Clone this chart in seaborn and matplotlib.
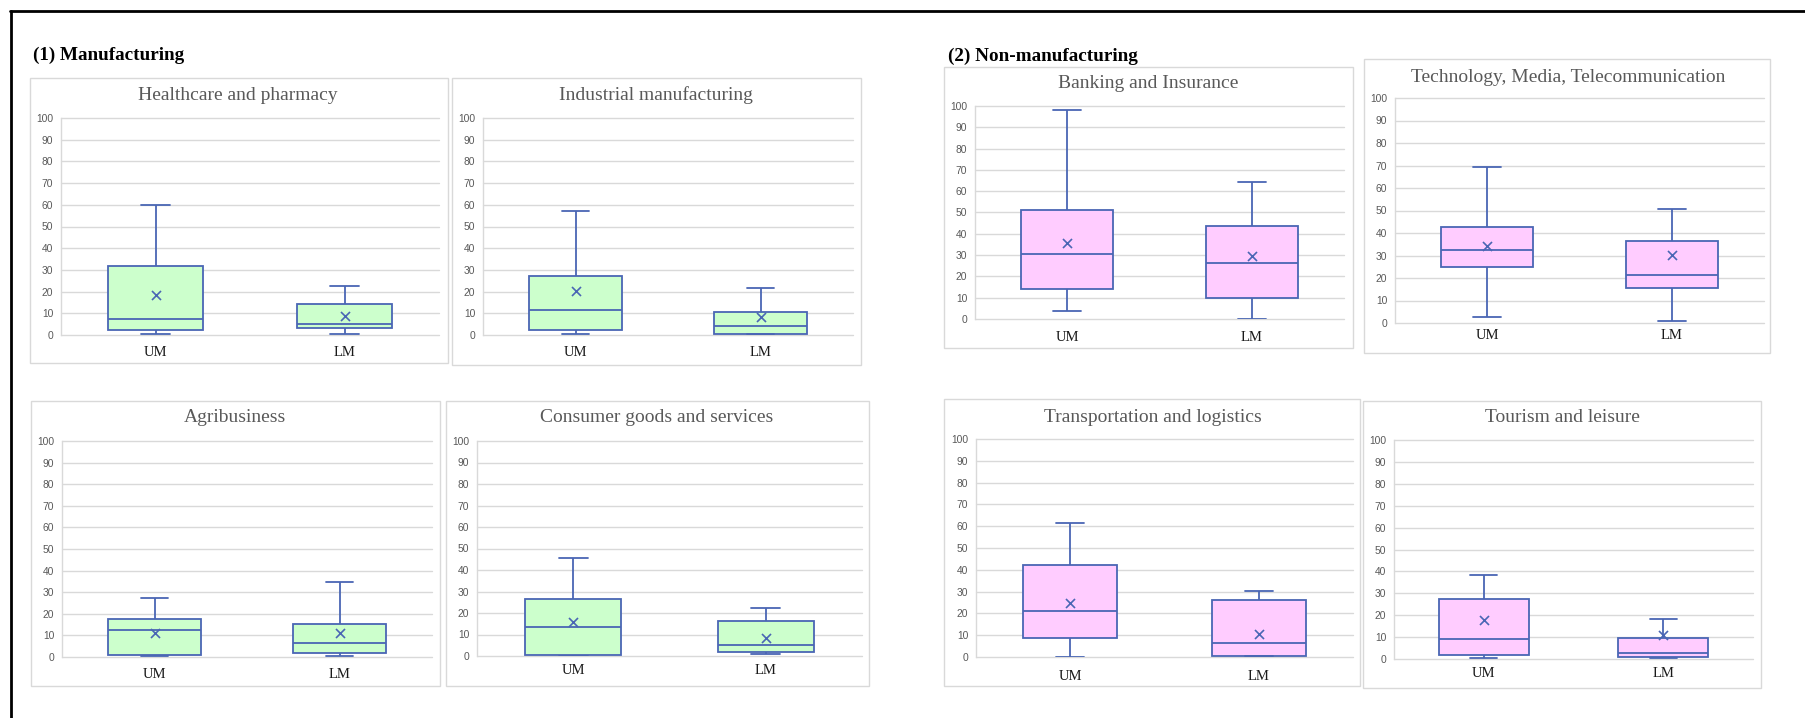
import matplotlib
matplotlib.use("Agg")
import matplotlib.pyplot as plt
from matplotlib.patches import Rectangle
from matplotlib.lines import Line2D
import pandas as pd
import seaborn as sns

# Sector panels (first four: manufacturing, last four: non-manufacturing)
titles = [
    "Healthcare and pharmacy", "Industrial manufacturing",
    "Banking and Insurance", "Technology, Media, Telecommunication",
    "Agribusiness", "Consumer goods and services",
    "Transportation and logistics", "Tourism and leisure",
]
groups = ["UM", "LM"]

# Box summaries per panel: whisker low, Q1, median, Q3, whisker high, mean
um_low = [0.6, 0.3, 3.6, 2.8, 0.3, 0.2, 0.2, 0.3]
um_q1 = [2.1, 2.1, 14.1, 24.9, 1.1, 0.5, 8.9, 1.8]
um_median = [7.5, 11.3, 30.3, 32.3, 12.5, 13.3, 20.9, 9.1]
um_q3 = [32.0, 27.1, 51.4, 42.7, 17.4, 26.3, 42.1, 27.4]
um_high = [60.0, 57.1, 98.1, 69.5, 27.2, 45.7, 61.4, 38.4]
um_mean = [18.5, 20.2, 35.5, 34.1, 11.2, 15.6, 24.6, 17.6]

lm_low = [0.6, 0.3, 0.2, 0.9, 0.3, 0.9, 0.3, 0.3]
lm_q1 = [3.1, 0.6, 10.0, 15.6, 1.7, 1.9, 0.6, 1.1]
lm_median = [4.9, 4.1, 26.3, 21.2, 6.3, 5.0, 6.3, 2.7]
lm_q3 = [14.2, 10.7, 43.6, 36.6, 15.2, 16.4, 26.0, 9.6]
lm_high = [22.7, 21.7, 64.1, 50.7, 34.6, 22.3, 30.4, 18.2]
lm_mean = [8.7, 8.1, 29.8, 30.2, 11.2, 8.2, 10.4, 10.9]

section_titles = ["(1) Manufacturing", "(2) Non-manufacturing"]

W, H = 1805, 718
fig = plt.figure(figsize=(W / 100, H / 100), dpi=100)
sns.set_theme(style="whitegrid")
plt.rcParams["font.family"] = ["Liberation Serif", "DejaVu Serif"]
fig.set_facecolor("white")

GREEN = "#CCFFCC"
PINK = "#FFCCFF"
EDGE = "#4A66B4"
GRID = "#D9D9D9"

# Layout in pixels: plot area (x0, x1, y_top, y_bottom), frame (fx0, fy0, fx1, fy1),
# title centre (tx, ty), x tick label pad (pt)
layout = [
    ((61, 439, 118, 335), (30, 78, 448, 363), (238, 95), 8),
    ((483, 853, 118, 335), (452, 78, 861, 365), (656, 95), 8),
    ((975, 1344, 106, 319), (944, 67, 1353, 348), (1148, 84), 9),
    ((1395, 1764, 98, 323), (1364, 59, 1770, 353), (1568, 77), 4),
    ((62, 432, 441, 657), (31, 401, 440, 686), (235, 418), 8),
    ((477, 862, 441, 656), (446, 401, 869, 686), (657, 418), 6),
    ((976, 1353, 439, 657), (944, 399, 1360, 686), (1153, 417), 9),
    ((1394, 1753, 440, 659), (1363, 401, 1761, 688), (1562, 418), 6),
]

for i, title in enumerate(titles):
    (x0, x1, yt, yb), (fx0, fy0, fx1, fy1), (tx, ty), xpad = layout[i]
    fill = GREEN if i in (0, 1, 4, 5) else PINK

    # panel frame
    fig.add_artist(Rectangle((fx0 / W, 1 - fy1 / H), (fx1 - fx0) / W, (fy1 - fy0) / H,
                             transform=fig.transFigure, fill=False,
                             edgecolor="#D9D9D9", linewidth=1.0, zorder=0))

    ax = fig.add_axes([x0 / W, 1 - yb / H, (x1 - x0) / W, (yb - yt) / H])
    ax.set_facecolor("none")

    rows = []
    for g, vals in zip(groups, [
        (um_low[i], um_q1[i], um_median[i], um_q3[i], um_high[i]),
        (lm_low[i], lm_q1[i], lm_median[i], lm_q3[i], lm_high[i]),
    ]):
        for v in vals:
            rows.append({"group": g, "value": v})
    df = pd.DataFrame(rows)
    means = pd.DataFrame({"group": groups, "mean": [um_mean[i], lm_mean[i]]})

    sns.boxplot(data=df, x="group", y="value", order=groups, ax=ax,
                color=fill, saturation=1, linecolor=EDGE, linewidth=1.3,
                width=0.5, whis=(0, 100), fliersize=0, capwidths=0.15)
    sns.stripplot(data=means, x="group", y="mean", order=groups, ax=ax,
                  jitter=False, marker="x", size=6.5, color=EDGE,
                  linewidth=1.2, zorder=6)

    ax.set_xlim(-0.5, 1.5)
    ax.set_ylim(0, 100)
    ax.set_yticks(range(0, 101, 10))
    ax.set_xlabel("")
    ax.set_ylabel("")
    ax.xaxis.grid(False)
    ax.yaxis.grid(True, color=GRID, linewidth=1.0)
    for gl in ax.get_ygridlines():
        gl.set_clip_on(False)
    ax.set_axisbelow(True)
    for side in ("top", "right", "bottom"):
        ax.spines[side].set_visible(False)
    ax.spines["left"].set_color(GRID)
    ax.spines["left"].set_linewidth(1.0)
    ax.tick_params(axis="y", length=0, pad=5.5, labelsize=7.4, labelcolor="#595959")
    ax.tick_params(axis="x", length=0, pad=xpad, labelsize=10.5, labelcolor="#1a1a1a")
    for lab in ax.get_yticklabels():
        lab.set_family(["Liberation Sans", "DejaVu Sans"])
    for lab in ax.get_xticklabels():
        lab.set_family(["Liberation Serif", "DejaVu Serif"])

    fig.text(tx / W, 1 - ty / H, title, ha="center", va="center",
             fontsize=14, color="#595959", family=["Liberation Serif", "DejaVu Serif"])

fig.text(33 / W, 1 - 55 / H, section_titles[0], ha="left", va="center",
         fontsize=13.8, fontweight="bold", color="black")
fig.text(948 / W, 1 - 56 / H, section_titles[1], ha="left", va="center",
         fontsize=13.8, fontweight="bold", color="black")

# outer frame edges (top and left)
fig.add_artist(Line2D([9.5 / W, 1], [1 - 11 / H, 1 - 11 / H], transform=fig.transFigure,
                      color="black", linewidth=2.0))
fig.add_artist(Line2D([10.5 / W, 10.5 / W], [0, 1 - 11 / H], transform=fig.transFigure,
                      color="black", linewidth=2.0))

fig.savefig("out.png", dpi=100, facecolor="white")
